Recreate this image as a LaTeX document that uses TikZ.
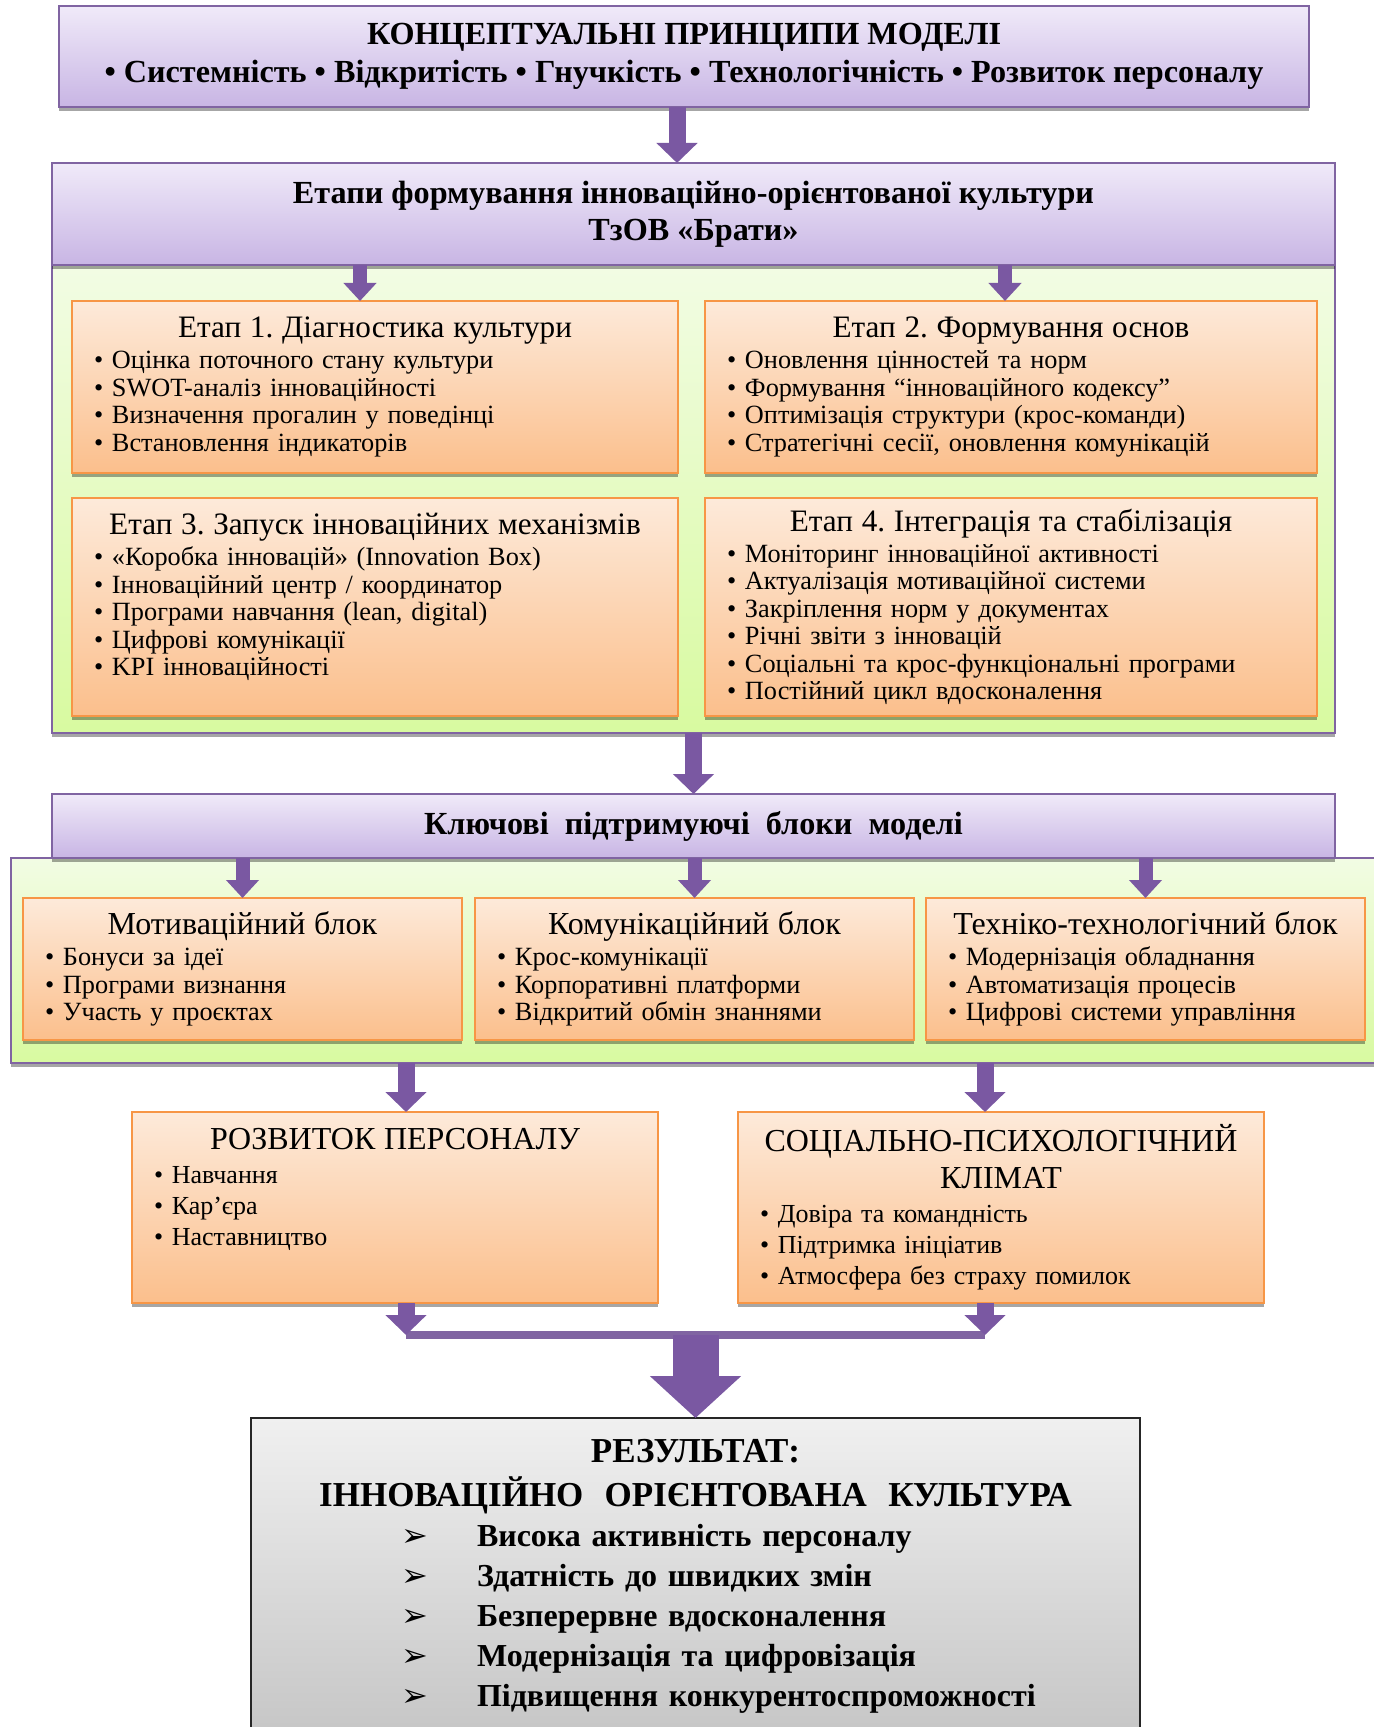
\documentclass[tikz,border=0pt]{standalone}
\usepackage{fontspec}
\setmainfont{Liberation Serif}
\newfontfamily\arrowfont{DejaVu Sans}
\usepackage{xcolor}
\usepackage{tikz}
\usetikzlibrary{arrows.meta, positioning, calc, backgrounds, shadows}
\definecolor{violetLine}{RGB}{128,100,162}
\definecolor{violetTop}{RGB}{240,234,249}
\definecolor{violetBot}{RGB}{200,181,228}
\definecolor{peachLine}{RGB}{247,150,70}
\definecolor{peachTop}{RGB}{253,234,218}
\definecolor{peachBot}{RGB}{251,191,140}
\definecolor{limeTop}{RGB}{242,252,228}
\definecolor{limeBot}{RGB}{216,250,160}
\definecolor{greyTop}{RGB}{240,240,240}
\definecolor{greyBot}{RGB}{198,198,198}
\definecolor{arrowViolet}{RGB}{122,88,162}
\newcommand{\boxhead}[1]{\makebox[\hsize][c]{#1}}
\newcommand{\resitem}[1]{\hspace*{75pt}\makebox[38pt][l]{\arrowfont\bfseries\fontsize{16}{16}\selectfont ➢}#1}
\frenchspacing

\begin{document}
\begin{tikzpicture}[
    node distance=0.4cm,
    boxshadow/.style={drop shadow={shadow xshift=0pt, shadow yshift=-2pt, fill=black, opacity=0.35}},
    concept/.style={rectangle, draw=violetLine, line width=1.2pt, top color=violetTop, bottom color=violetBot, boxshadow, align=center, inner sep=0pt, outer sep=0pt, font=\bfseries\fontsize{16.1}{19}\selectfont},
    area/.style={rectangle, draw=violetLine, line width=1pt, top color=limeTop, bottom color=limeBot, boxshadow, inner sep=0pt, outer sep=0pt},
    stagebox/.style={rectangle, draw=peachLine, line width=1pt, top color=peachTop, bottom color=peachBot, boxshadow, align=left, inner xsep=11pt, inner ysep=0pt, outer sep=0pt, font=\fontsize{13.15}{13.75}\selectfont},
    blockbox/.style={stagebox, text width=197.5pt, minimum width=219.5pt, minimum height=71pt},
    staffbox/.style={stagebox, text width=241pt, minimum width=263pt, minimum height=95.5pt, font=\fontsize{13}{15.5}\selectfont},
    resultbox/.style={rectangle, draw=black!85, line width=0.8pt, top color=greyTop, bottom color=greyBot, align=left, inner sep=0pt, outer sep=0pt, font=\bfseries\fontsize{16}{20}\selectfont},
    flow/.style={-{Triangle[width=20pt,length=10pt]}, line width=8.5pt, arrowViolet},
    flowsmall/.style={-{Triangle[width=16pt,length=9pt]}, line width=7pt, arrowViolet},
    bigflow/.style={-{Triangle[width=44.5pt,length=21pt]}, line width=23pt, arrowViolet}
]
\useasboundingbox (0,0) rectangle (686.5pt,-863.5pt);

% principles and stages
\node[concept, minimum width=625pt, minimum height=50.5pt] (principles) at (342pt,-28.25pt)
    {КОНЦЕПТУАЛЬНІ ПРИНЦИПИ МОДЕЛІ\\• Системність • Відкритість • Гнучкість • Технологічність • Розвиток персоналу};
\node[concept, minimum width=641.5pt, minimum height=51pt, below=28pt of principles, xshift=4.75pt, font=\bfseries\fontsize{16.1}{18.5}\selectfont] (stagehead)
    {Етапи формування інноваційно-орієнтованої культури\\ТзОВ «Брати»};
\begin{scope}[on background layer]
\node[area, minimum width=641.5pt, minimum height=234pt, below=0pt of stagehead] (stages) {};
\end{scope}

\node[stagebox, text width=281pt, minimum width=303pt, minimum height=86pt, below right=18pt and 10pt of stagehead.south west] (stage1)
    {\boxhead{\fontsize{15.6}{16}\selectfont Етап 1. Діагностика культури}\\[1.75pt]
     • Оцінка поточного стану культури\\
     • SWOT-аналіз інноваційності\\
     • Визначення прогалин у поведінці\\
     • Встановлення індикаторів};
\node[stagebox, text width=284pt, minimum width=306pt, minimum height=86pt, right=13.5pt of stage1] (stage2)
    {\boxhead{\fontsize{15.6}{16}\selectfont Етап 2. Формування основ}\\[1.75pt]
     • Оновлення цінностей та норм\\
     • Формування “інноваційного кодексу”\\
     • Оптимізація структури (крос-команди)\\
     • Стратегічні сесії, оновлення комунікацій};
\node[stagebox, text width=281pt, minimum width=303pt, minimum height=109pt, below=12.5pt of stage1] (stage3)
    {\boxhead{\fontsize{15.6}{16}\selectfont Етап 3. Запуск інноваційних механізмів}\\[1.75pt]
     • «Коробка інновацій» (Innovation Box)\\
     • Інноваційний центр / координатор\\
     • Програми навчання (lean, digital)\\
     • Цифрові комунікації\\
     • KPI інноваційності\\[-5.5pt] \strut};
\node[stagebox, text width=284pt, minimum width=306pt, minimum height=109pt, right=13.5pt of stage3] (stage4)
    {\boxhead{\fontsize{15.6}{16}\selectfont Етап 4. Інтеграція та стабілізація}\\[1.75pt]
     • Моніторинг інноваційної активності\\
     • Актуалізація мотиваційної системи\\
     • Закріплення норм у документах\\
     • Річні звіти з інновацій\\
     • Соціальні та крос-функціональні програми\\
     • Постійний цикл вдосконалення};

% supporting blocks
\node[concept, minimum width=641.5pt, minimum height=32pt, below=30.5pt of stages] (keyhead)
    {Ключові\ \ підтримуючі\ \ блоки\ \ моделі};
\begin{scope}[on background layer]
\node[area, minimum width=687.5pt, minimum height=102.5pt, below right=0pt and -20.5pt of keyhead.south west] (blocks) {};
\end{scope}

\node[blockbox, below right=20pt and 6pt of blocks.north west] (motive)
    {\boxhead{\fontsize{16}{16}\selectfont Мотиваційний блок}\\[1.75pt]
     • Бонуси за ідеї\\
     • Програми визнання\\
     • Участь у проєктах};
\node[blockbox, right=6.5pt of motive] (comms)
    {\boxhead{\fontsize{16}{16}\selectfont Комунікаційний блок}\\[1.75pt]
     • Крос-комунікації\\
     • Корпоративні платформи\\
     • Відкритий обмін знаннями};
\node[blockbox, right=6pt of comms] (techno)
    {\boxhead{\fontsize{16}{16}\selectfont Техніко-технологічний блок}\\[1.75pt]
     • Модернізація обладнання\\
     • Автоматизація процесів\\
     • Цифрові системи управління};

% staff and climate
\node[staffbox, below right=24.5pt and 60.5pt of blocks.south west] (staff)
    {\boxhead{\fontsize{16}{16}\selectfont РОЗВИТОК ПЕРСОНАЛУ}\\[1.5pt]
     • Навчання\\
     • Кар’єра\\
     • Наставництво\\ \strut};
\node[staffbox, right=40pt of staff] (climate)
    {\boxhead{\fontsize{16}{16}\selectfont СОЦІАЛЬНО-ПСИХОЛОГІЧНИЙ}\\[3pt]
     \boxhead{\fontsize{16}{16}\selectfont КЛІМАТ}\\[1.5pt]
     • Довіра та командність\\
     • Підтримка ініціатив\\
     • Атмосфера без страху помилок};

\coordinate (joinL) at ([xshift=5.5pt, yshift=-16pt]staff.south);
\coordinate (joinR) at ([xshift=-8pt, yshift=-16pt]climate.south);
\coordinate (joinM) at ($(joinL)!0.5!(joinR)$);

% result
\node[resultbox, text width=444.5pt, minimum width=444.5pt, minimum height=158pt, below=41.5pt of joinM] (result)
    {\boxhead{\fontsize{17.5}{20}\selectfont РЕЗУЛЬТАТ:}\\[2pt]
     \boxhead{\fontsize{17.5}{20}\selectfont ІННОВАЦІЙНО\ \ ОРІЄНТОВАНА\ \ КУЛЬТУРА}\\
     \resitem{Висока активність персоналу}\\
     \resitem{Здатність до швидких змін}\\
     \resitem{Безперервне вдосконалення}\\
     \resitem{Модернізація та цифровізація}\\
     \resitem{Підвищення конкурентоспроможності}};

% connectors
\draw[flow] ([xshift=-3.5pt]principles.south) -- ([xshift=-3.5pt]principles.south |- stagehead.north);
\draw[flowsmall] ([xshift=-7.5pt]stage1.north |- stagehead.south) -- ([xshift=-7.5pt]stage1.north);
\draw[flowsmall] ([xshift=-3pt]stage2.north |- stagehead.south) -- ([xshift=-3pt]stage2.north);
\draw[flow] (stages.south -| keyhead.north) -- (keyhead.north);
\draw[flowsmall] (keyhead.south -| motive.north) -- (motive.north);
\draw[flowsmall] (keyhead.south -| comms.north) -- (comms.north);
\draw[flowsmall] (keyhead.south -| techno.north) -- (techno.north);
\draw[flow] (blocks.south -| joinL) -- (joinL |- staff.north);
\draw[flow] (blocks.south -| joinR) -- (joinR |- climate.north);
\draw[line width=4pt, violetLine] (joinL) -- (joinR);
\draw[flow] (joinL |- staff.south) -- (joinL);
\draw[flow] (joinR |- climate.south) -- (joinR);
\draw[bigflow] (joinM) -- (result.north);
\end{tikzpicture}
\end{document}
